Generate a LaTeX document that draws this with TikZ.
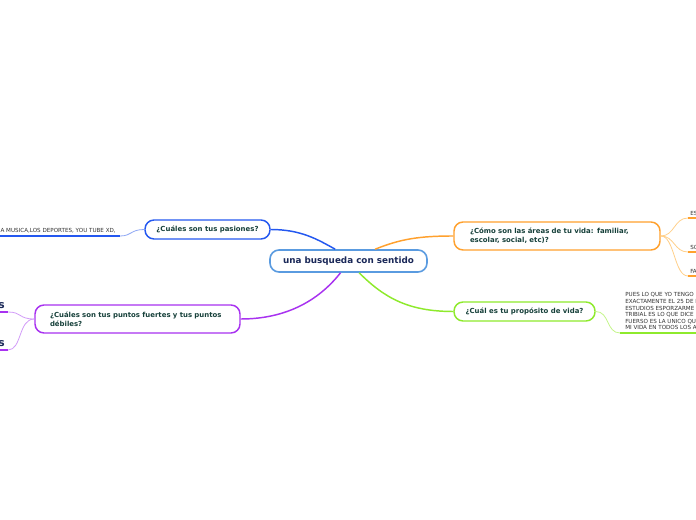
\documentclass[tikz,border=0pt]{standalone}
\usepackage{fontspec}
\setmainfont{DejaVu Sans}
\usetikzlibrary{positioning,calc}
\definecolor{mainblue}{HTML}{5A9BE0}
\definecolor{maintext}{HTML}{1A2858}
\definecolor{headtext}{HTML}{16403A}
\definecolor{pasblue}{HTML}{2458F0}
\definecolor{pasleaf}{HTML}{8FA8F5}
\definecolor{ptspurple}{HTML}{A832F0}
\definecolor{ptsleaf}{HTML}{D29CF8}
\definecolor{areaorange}{HTML}{FFA12E}
\definecolor{arealeaf}{HTML}{FFD08A}
\definecolor{propgreen}{HTML}{8EEA2C}
\definecolor{propleaf}{HTML}{C4F58A}
\newlength\pxu
\setlength\pxu{0.75pt}

\begin{document}
\begin{tikzpicture}[
  x=0.75pt, y=-0.75pt,
  topic/.style={draw, rounded corners=9\pxu, line width=1.2pt, fill=white, font=\fontsize{6.6}{8}\selectfont\bfseries, text=maintext, inner sep=0pt},
  sub/.style={draw, rounded corners=9\pxu, line width=1.1pt, fill=white, font=\fontsize{5.2}{6.6}\selectfont\bfseries, text=headtext, inner sep=0pt},
  leaf/.style={font=\fontsize{4.2}{4.9}\selectfont, text=black!80, inner sep=0pt},
  bigleaf/.style={font=\fontsize{8}{9}\selectfont\bfseries, text=maintext, inner sep=0pt},
  br/.style={line width=1.1pt},
  twig/.style={line width=0.6pt},
  uline/.style={line width=1.5pt}
]
  \useasboundingbox (0,0) rectangle (696,520);
  \fill[white] (0,0) rectangle (696,520);
  \clip (0,0) rectangle (696,520);

  % main topics
  \node[topic, draw=mainblue, minimum width=157\pxu, minimum height=22\pxu] (main) at (348.5,261) {una busqueda con sentido};
  \node[sub, draw=pasblue, minimum width=125\pxu, minimum height=19\pxu] (pas) at (207.5,229.5) {¿Cuáles son tus pasiones?};
  \node[sub, draw=ptspurple, text width=175\pxu, inner xsep=15\pxu, minimum height=28\pxu, align=left] (pts) at (137.5,319) {¿Cuáles son tus puntos fuertes y tus puntos\\débiles?};
  \node[sub, draw=areaorange, text width=174\pxu, inner xsep=16\pxu, minimum height=28\pxu, align=left] (areas) at (557,236) {¿Cómo son las áreas de tu vida: familiar,\\escolar, social, etc)?};
  \node[sub, draw=propgreen, minimum width=141\pxu, minimum height=19\pxu] (prop) at (524.5,311.5) {¿Cuál es tu propósito de vida?};

  % leaves
  \coordinate (musicaend) at (120,236);
  \node[leaf, anchor=south east] (musica) at (116,233.5) {A MUSICA,LOS DEPORTES, YOU TUBE XD,};
  \coordinate (fuertesend) at (8,312);
  \coordinate (debilesend) at (8,350);
  \node[bigleaf, anchor=south east] (fuertes) at (5,309) {s};
  \node[bigleaf, anchor=south east] (debiles) at (5,347) {s};
  \coordinate (esend) at (688,218);
  \coordinate (soend) at (688,252);
  \coordinate (faend) at (688,276);
  \node[leaf, anchor=south west] (es) at (690,215.5) {ES};
  \node[leaf, anchor=south west] (so) at (690,249.5) {SO};
  \node[leaf, anchor=south west] (fa) at (690,273.5) {FA};
  \coordinate (proposend) at (620,333);
  \coordinate (proposedge) at (700,333);
  \node[leaf, anchor=south west, align=left] (propos) at (625,330) {PUES LO QUE YO TENGO\\EXACTAMENTE EL 25 DE I\\ESTUDIOS ESPORZARME\\TRIBIAL ES LO QUE DICE\\FUERSO ES LA UNICO QU\\MI VIDA EN TODOS LOS A};

  % branches
  \draw[br, pasblue] ([xshift=-10]main.north) .. controls +(-18,-10) and +(30,0) .. (pas.east);
  \draw[br, ptspurple] ([xshift=-6]main.south) .. controls +(-22,28) and +(45,0) .. (pts.east);
  \draw[br, areaorange] ([xshift=20]main.north) .. controls +(25,-10) and +(-35,0) .. (areas.west);
  \draw[br, propgreen] ([xshift=8]main.south) .. controls +(25,25) and +(-45,0) .. (prop.west);

  % twigs
  \draw[twig, pasleaf] (pas.west) .. controls +(-14,0) and +(12,0) .. (musicaend);
  \draw[uline, pasblue] (musicaend) -- (musica.south west |- musicaend);
  \draw[twig, ptsleaf] (pts.west) .. controls +(-16,0) and +(14,0) .. (fuertesend);
  \draw[twig, ptsleaf] (pts.west) .. controls +(-16,0) and +(14,0) .. (debilesend);
  \draw[uline, ptspurple] (fuertesend) -- (fuertesend -| 0,0);
  \draw[uline, ptspurple] (debilesend) -- (debilesend -| 0,0);
  \draw[twig, arealeaf] (areas.east) .. controls +(14,0) and +(-14,0) .. (esend);
  \draw[twig, arealeaf] (areas.east) .. controls +(14,0) and +(-14,0) .. (soend);
  \draw[twig, arealeaf] (areas.east) .. controls +(14,0) and +(-14,0) .. (faend);
  \draw[uline, areaorange] (esend) -- (es.south east |- esend);
  \draw[uline, areaorange] (soend) -- (so.south east |- soend);
  \draw[uline, areaorange] (faend) -- (fa.south east |- faend);
  \draw[twig, propleaf] (prop.east) .. controls +(14,0) and +(-14,0) .. (proposend);
  \draw[uline, propgreen] (proposend) -- (proposedge);
\end{tikzpicture}
\end{document}
